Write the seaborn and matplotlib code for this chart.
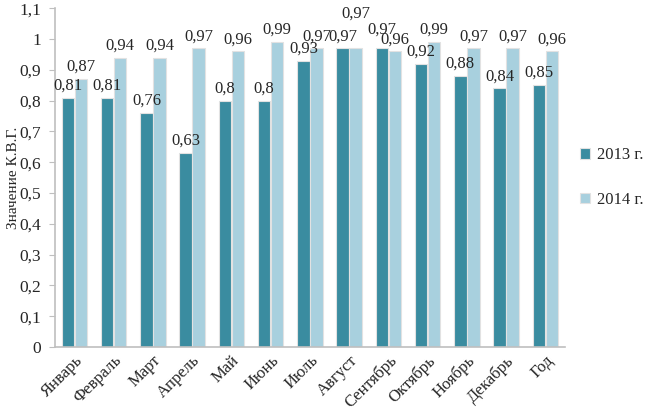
import pandas as pd
import seaborn as sns
import matplotlib.pyplot as plt
from matplotlib.ticker import FuncFormatter

months = ['Январь', 'Февраль', 'Март', 'Апрель', 'Май', 'Июнь', 'Июль',
          'Август', 'Сентябрь', 'Октябрь', 'Ноябрь', 'Декабрь', 'Год']
vals_2013 = [0.81, 0.81, 0.76, 0.63, 0.8, 0.8, 0.93, 0.97, 0.97, 0.92, 0.88, 0.84, 0.85]
vals_2014 = [0.87, 0.94, 0.94, 0.97, 0.96, 0.99, 0.97, 0.97, 0.96, 0.99, 0.97, 0.97, 0.96]
series = ['2013 г.', '2014 г.']

df = pd.DataFrame({'Месяц': months * 2,
                   'Значение': vals_2013 + vals_2014,
                   'Год': [series[0]] * 13 + [series[1]] * 13})

sns.set_style('white')
plt.rcParams['font.family'] = ['Liberation Serif', 'DejaVu Serif']

fig = plt.figure(figsize=(6.45, 4.17), dpi=100)
ax = fig.add_axes([0.085, 0.168, 0.791, 0.812])

sns.barplot(data=df, x='Месяц', y='Значение', hue='Год',
            palette=['#3a8ca0', '#a8d0de'], saturation=1, width=0.66, gap=0.04,
            edgecolor='#e2e2e2', linewidth=0.8, ax=ax, legend=True)

# value labels (a couple lifted like in the original, where they collide)
lift = {(1, 7): 16, (0, 8): 5}
for k, cont in enumerate(ax.containers):
    for i, bar in enumerate(cont):
        v = bar.get_height()
        ax.annotate(str(v).replace('.', ','),
                    (bar.get_x() + bar.get_width() / 2, v),
                    xytext=(0, 3 + lift.get((k, i), 0)), textcoords='offset points',
                    ha='center', va='bottom', fontsize=12)

ax.set_ylim(0, 1.1)
ax.set_yticks([i / 10 for i in range(12)])
ax.yaxis.set_major_formatter(FuncFormatter(lambda v, p: ('%g' % round(v, 1)).replace('.', ',')))
ax.set_xlim(-0.5, 12.5)
ax.set_xlabel('')
ax.set_ylabel('Значение К.В.Г.', fontsize=11)
ax.yaxis.set_label_coords(-0.068, 0.5)
ax.tick_params(axis='y', labelsize=12.5, length=4, color='#bfbfbf', left=True, pad=6)
ax.tick_params(axis='x', labelsize=12, length=0, pad=4)
plt.setp(ax.get_xticklabels(), rotation=45, ha='right', rotation_mode='anchor')

for s in ['top', 'right']:
    ax.spines[s].set_visible(False)
for s in ['left', 'bottom']:
    ax.spines[s].set_color('#bfbfbf')
    ax.spines[s].set_linewidth(1.2)

ax.legend(loc='center left', bbox_to_anchor=(1.0, 0.5), frameon=False,
          fontsize=12, handlelength=0.6, handleheight=0.6, labelspacing=1.7,
          handletextpad=0.4)

fig.savefig('out.png', dpi=100)
